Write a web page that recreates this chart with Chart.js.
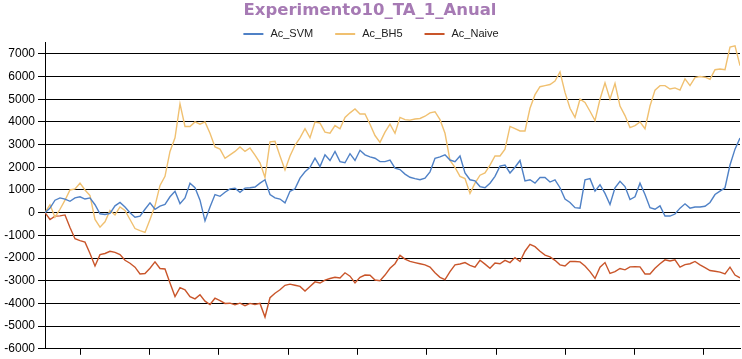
<!DOCTYPE html>
<html lang="es">
<head>
<meta charset="UTF-8">
<title>Experimento10_TA_1_Anual</title>
<script src="https://cdn.jsdelivr.net/npm/chart.js"></script>
<style>
  html, body { margin: 0; padding: 0; background: #fff; }
  #wrap { width: 742px; height: 359px; }
</style>
</head>
<body>
<div id="wrap"><canvas id="grafico" width="742" height="359"></canvas></div>
<script>
  // series acumuladas
  const series = ["Ac_SVM", "Ac_BH5", "Ac_Naive"];

  const acSVM = [
    0, 200, 550, 650, 600, 500, 650, 700, 600, 650,
    350, -50, -80, -30, 300, 450, 250, 0, -200, -150,
    150, 430, 150, 290, 360, 700, 940, 400, 650, 1300,
    1100, 550, -360, 250, 800, 720, 900, 1050, 1080, 900,
    1080, 1100, 1130, 1300, 1450, 800, 650, 600, 430, 940,
    1050, 1520, 1800, 2000, 2400, 2030, 2550, 2300, 2700, 2250,
    2200, 2600, 2300, 2750, 2550, 2460, 2400, 2250, 2250, 2320,
    1960, 1900, 1700, 1560, 1500, 1450, 1520, 1800, 2400, 2460,
    2550, 2320, 2250, 2500, 1750, 1450, 1400, 1150, 1100, 1300,
    1600, 2050, 2100, 1750, 2000, 2300, 1400, 1450, 1300, 1550,
    1550, 1350, 1450, 1100, 600, 450, 220, 200, 1450, 1500,
    950, 1230, 850, 360, 1100, 1380, 1150, 580, 700, 1300,
    800, 220, 150, 300, -150, -150, -60, 200, 390, 200,
    250, 250, 280, 450, 800, 950, 1100, 2100, 2800, 3290
  ];

  const acBH5 = [
    0, 350, -200, 150, 550, 1000, 1050, 1300, 1000, 750,
    -300, -640, -400, 100, -100, 250, 100, -300, -700, -790,
    -870, -300, 300, 1200, 1600, 2700, 3300, 4800, 3800, 3800,
    4000, 3900, 4000, 3500, 2900, 2800, 2400, 2550, 2700, 2900,
    2700, 2850, 2540, 2200, 1550, 3120, 3150, 2500, 1880, 2500,
    2970, 3300, 3700, 3300, 3990, 3950, 3550, 3500, 3840, 3700,
    4200, 4400, 4570, 4350, 4350, 3900, 3400, 3100, 3550, 3900,
    3500, 4200, 4100, 4080, 4130, 4150, 4250, 4400, 4450, 4100,
    3500, 2300, 2000, 1600, 1500, 850, 1300, 1650, 1750, 2100,
    2500, 2500, 2800, 3800, 3700, 3600, 3600, 4600, 5200, 5550,
    5600, 5650, 5800, 6200, 5300, 4600, 4200, 5000, 4860, 4470,
    4060, 5000, 5720, 5000, 5700, 4700, 4280, 3750, 3840, 4000,
    3700, 4700, 5400, 5600, 5600, 5450, 5500, 5400, 5900, 5600,
    5950, 6000, 5970, 5880, 6300, 6330, 6300, 7300, 7350, 6480
  ];

  const acNaive = [
    0, -300, -150, -140, -100, -650, -1150, -1230, -1300, -1800,
    -2350, -1850, -1800, -1700, -1750, -1850, -2100, -2230, -2400, -2700,
    -2680, -2450, -2170, -2460, -2480, -3100, -3700, -3300, -3400, -3700,
    -3800, -3620, -3900, -4050, -3770, -3880, -4000, -3990, -4060, -3990,
    -4100, -4000, -4050, -4000, -4600, -3750, -3550, -3400, -3200, -3150,
    -3200, -3250, -3450, -3250, -3050, -3100, -2970, -2900, -2850, -2880,
    -2650, -2800, -3100, -2850, -2750, -2760, -2970, -3000, -2750, -2450,
    -2250, -1880, -2050, -2150, -2200, -2250, -2300, -2400, -2650, -2850,
    -2950, -2600, -2300, -2260, -2200, -2320, -2400, -2100, -2270, -2450,
    -2220, -2250, -2100, -2200, -1980, -2150, -1700, -1400, -1500, -1700,
    -1870, -1950, -2100, -2300, -2350, -2150, -2150, -2170, -2350, -2600,
    -2900, -2400, -2200, -2680, -2600, -2460, -2520, -2390, -2380, -2390,
    -2700, -2700, -2450, -2250, -2080, -2130, -2080, -2400, -2290, -2250,
    -2150, -2300, -2420, -2550, -2580, -2620, -2700, -2400, -2750, -2870
  ];

  const marcasY = [-6000, -5000, -4000, -3000, -2000, -1000, 0, 1000, 2000, 3000, 4000, 5000, 6000, 7000];
  const marcasX = [7, 20.86, 34.8, 48.66, 62.46, 76.3, 90.2, 104.14, 117.86, 131.66];

  const colores = ["#4f81c6", "#f0c070", "#c9552a"];

  const puntos = arr => arr.map((v, i) => ({ x: i, y: v }));

  // leyenda dibujada bajo el titulo
  const leyenda = {
    id: "leyenda",
    afterDraw(chart) {
      const ctx = chart.ctx;
      ctx.save();
      ctx.font = '11px "Liberation Sans"';
      ctx.textBaseline = "middle";
      const items = chart.data.datasets.map(ds => ({
        text: ds.label, color: ds.borderColor, w: ctx.measureText(ds.label).width
      }));
      const total = items.reduce((s, it) => s + 27 + it.w, 0) + 22 * (items.length - 1);
      let x = chart.width / 2 - total / 2;
      const y = 34;
      items.forEach(it => {
        ctx.strokeStyle = it.color;
        ctx.lineWidth = 2;
        ctx.beginPath();
        ctx.moveTo(x, y);
        ctx.lineTo(x + 20, y);
        ctx.stroke();
        ctx.fillStyle = "#222";
        ctx.fillText(it.text, x + 27, y);
        x += 27 + it.w + 22;
      });
      ctx.restore();
    }
  };

  new Chart(document.getElementById("grafico"), {
    type: "line",
    data: {
      datasets: [
        { label: series[0], data: puntos(acSVM), borderColor: colores[0], backgroundColor: colores[0] },
        { label: series[1], data: puntos(acBH5), borderColor: colores[1], backgroundColor: colores[1] },
        { label: series[2], data: puntos(acNaive), borderColor: colores[2], backgroundColor: colores[2] }
      ]
    },
    options: {
      responsive: false,
      animation: false,
      devicePixelRatio: 1,
      layout: { padding: { left: 0, right: 2, top: 0, bottom: 0 } },
      elements: {
        point: { radius: 0 },
        line: { borderWidth: 1.4, tension: 0 }
      },
      plugins: {
        legend: { display: false },
        tooltip: { enabled: false },
        title: {
          display: true,
          text: "Experimento10_TA_1_Anual",
          color: "#a67ab4",
          font: { family: "DejaVu Sans", size: 16.5, weight: "bold" },
          padding: { top: 1, bottom: 21.7 }
        }
      },
      scales: {
        x: {
          type: "linear",
          min: 0,
          max: acSVM.length - 1,
          afterBuildTicks: s => { s.ticks = marcasX.map(v => ({ value: v })); },
          ticks: { display: false },
          grid: { drawOnChartArea: false, drawTicks: true, tickLength: 6, color: "#000" },
          border: { color: "#000" }
        },
        y: {
          min: -6000,
          max: 7500,
          afterBuildTicks: s => { s.ticks = marcasY.map(v => ({ value: v })); },
          afterFit: s => { s.width = 45; },
          ticks: {
            color: "#000",
            padding: 3,
            font: { family: "Liberation Sans", size: 12 },
            callback: v => String(v)
          },
          grid: { color: "#000", tickLength: 7 },
          border: { color: "#000" }
        }
      }
    },
    plugins: [leyenda]
  });
</script>
</body>
</html>
